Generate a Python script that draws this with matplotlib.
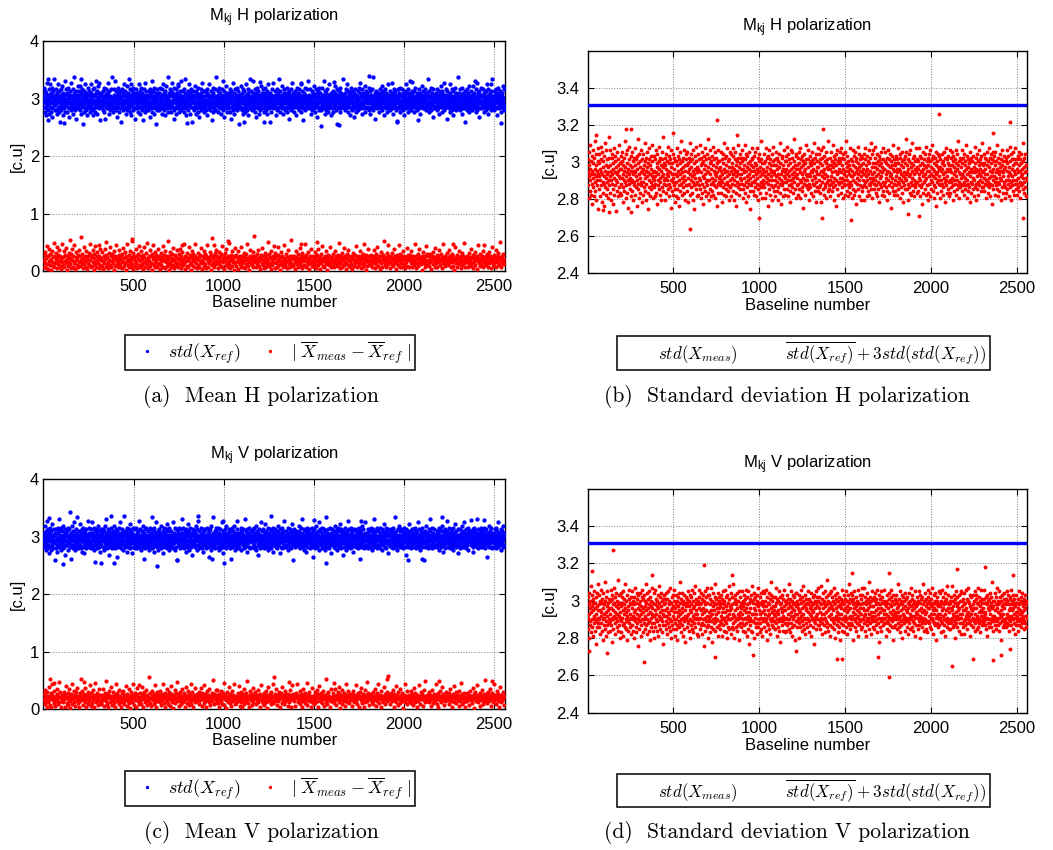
import numpy as np
import matplotlib
matplotlib.use("Agg")
import matplotlib.pyplot as plt
from matplotlib.lines import Line2D

plt.rcParams['font.family'] = ['Liberation Sans', 'DejaVu Sans']
plt.rcParams['mathtext.fontset'] = 'custom'
plt.rcParams['mathtext.rm'] = 'Liberation Sans'
plt.rcParams['mathtext.it'] = 'Liberation Sans:italic'
plt.rcParams['mathtext.bf'] = 'Liberation Sans:bold'

N_BASELINES = 2556

# ---- data ----
# each cloud is stored as integer codes, value = base + step * code
# (a) mean H : blue std(X_ref)
A_BLUE = """
47 53 50 58 44 51 56 42 49 55 46 61 52 48 39 54 50 45 57 51 43 53 49 60 47 52 55 44 50 46 58 41 53 49 56 48 51 63 45 52
54 48 45 52 57 50 43 55 49 46 53 60 51 47 56 44 50 52 38 54 48 57 45 51 59 47 53 50 42 55 49 46 52 62 48 54 44 51 57 50
49 55 51 44 53 47 58 50 46 52 41 56 49 54 48 61 45 51 53 47 50 57 43 52 48 55 46 64 50 53 45 49 56 51 40 54 47 52 59 48
52 46 56 50 48 54 45 59 51 43 55 49 52 47 57 50 37 53 48 56 44 51 54 46 60 49 52 45 55 50 47 53 42 58 51 48 54 46 50 56
48 51 44 55 52 60 47 50 53 45 49 57 42 54 51 46 58 50 48 53 44 62 49 55 47 51 56 43 52 50 59 46 53 48 55 39 51 47 54 50
55 49 53 47 50 45 56 52 48 58 44 51 54 40 50 57 47 53 49 55 46 52 61 48 50 54 43 56 51 47 53 49 45 57 52 50 64 46 51 48
50 44 52 57 49 54 46 51 62 47 53 50 45 56 48 52 41 55 50 47 58 53 44 51 49 56 46 54 52 38 50 57 48 53 45 51 55 49 60 47
46 53 49 51 56 43 50 54 47 59 51 45 52 48 55 50 63 46 53 49 44 57 51 48 54 42 52 50 56 47 53 45 58 49 51 55 46 50 40 54
53 50 57 46 52 48 55 44 51 49 60 47 54 52 43 56 50 46 53 58 48 51 45 55 49 39 53 50 57 47 52 44 54 61 48 51 56 45 50 53
51 47 54 49 45 56 50 53 41 57 48 52 55 46 50 62 44 53 49 51 56 47 52 43 58 50 54 48 46 55 51 37 53 49 57 45 52 50 47 55
49 55 45 52 58 48 51 46 54 50 43 57 53 49 47 60 52 45 55 50 48 54 42 56 51 47 59 49 53 46 52 50 64 44 55 48 51 53 46 57
54 50 48 56 44 53 49 61 47 51 55 45 52 40 58 50 46 54 49 52 57 43 51 48 55 50 46 53 59 47 52 44 56 50 48 54 51 45 62 49
47 52 56 49 53 46 50 44 57 51 48 55 63 46 52 50 42 54 49 47 56 51 45 53 60 48 50 55 43 52 47 57 49 54 38 51 53 46 50 56
52 45 51 54 48 59 50 47 53 43 56 49 52 46 55 50 58 44 51 48 54 41 53 50 47 57 52 45 55 49 61 47 51 53 46 50 56 48 44 53
50 56 47 53 51 45 55 49 42 57 50 48 54 46 52 60 49 53 45 51 56 47 50 39 54 48 52 55 44 58 50 46 53 49 57 51 45 52 48 64
45 51 53 48 56 50 44 54 47 52 58 49 51 46 55 43 50 53 47 57 52 48 62 45 51 54 49 41 56 50 47 53 51 46 59 48 52 55 44 50
53 48 50 55 46 52 57 44 51 49 54 40 56 50 47 53 61 45 52 48 55 50 43 57 49 51 46 54 52 48 58 45 50 53 47 56 51 37 54 49
48 54 52 46 59 50 47 53 45 55 51 49 57 43 52 50 46 56 48 53 44 60 51 47 54 50 52 45 57 49 42 55 51 48 53 46 63 50 47 52
56 49 45 53 51 47 55 50 62 46 52 48 54 44 57 51 49 53 41 55 47 50 58 46 52 49 56 43 51 54 48 50 45 59 52 47 53 49 55 50
51 46 57 49 53 44 50 55 48 52 58 45 51 47 56 50 43 54 49 52 60 46 53 48 51 38 55 50 47 54 52 44 57 49 51 46 53 61 48 50
49 53 47 51 56 48 54 42 52 50 45 57 53 49 46 55 51 63 47 52 50 44 56 48 53 51 46 59 50 54 47 52 43 55 49 51 57 45 50 54
55 47 52 50 44 58 49 53 46 51 55 48 40 56 50 47 54 52 45 57 49 51 53 46 61 48 50 55 44 52 47 56 50 49 54 42 53 51 47 58
48 52 55 46 50 53 49 57 45 51 47 54 50 60 44 52 48 56 51 46 53 49 39 55 50 47 58 52 45 54 49 51 46 57 53 48 50 62 47 52
52 49 46 54 51 57 47 50 53 43 56 48 52 45 55 50 47 59 49 53 46 51 54 44 57 50 48 52 41 55 47 53 50 56 49 45 52 58 51 46
47 55 50 52 45 53 58 48 51 46 54 49 62 47 52 50 43 56 51 48 53 45 55 50 47 57 52 49 44 54 51 46 60 48 53 50 55 42 51 49
53 46 51 49 56 50 44 54 47 52 59 48 50 55 45 53 49 51 37 57 50 47 54 52 46 56 49 53 44 51 58 48 50 46 55 52 47 53 63 49
50 54 48 53 47 51 55 45 57 49 52 46 50 60 48 53 44 56 51 47 54 50 42 52 55 49 46 58 51 53 45 50 56 48 52 47 54 41 50 55
46 52 57 50 48 54 44 51 53 47 56 49 52 45 58 50 47 55 61 48 51 53 46 50 54 43 57 49 52 48 55 50 46 53 59 47 51 44 56 52
54 49 51 46 55 52 47 53 50 58 45 51 49 56 43 53 50 47 54 52 46 57 48 64 51 45 53 50 49 55 47 52 40 56 50 48 54 46 51 53
49 51 55 47 52 44 57 50 48 53 46 55 51 49 59 45 52 50 56 47 53 42 51 54 48 50 57 46 52 49 55 44 53 51 47 60 50 48 54 46
52 47 50 56 45 53 49 54 61 48 51 46 55 50 43 57 52 48 53 47 50 56 45 51 49 54 38 52 50 57 47 53 46 55 49 51 48 58 44 53
48 53 46 51 57 49 52 45 55 50 47 54 42 56 51 48 53 49 60 46 52 55 47 50 44 57 51 53 48 46 55 50 62 49 52 47 54 45 51 56
55 50 48 53 47 51 56 44 52 49 58 46 53 50 47 55 51 45 54 39 52 48 57 50 46 53 49 55 43 51 54 47 50 59 48 52 46 56 50 47
51 46 54 49 52 57 47 50 55 45 53 48 51 63 46 54 50 48 56 44 52 49 53 47 58 50 45 55 51 48 52 41 57 49 53 46 50 54 47 52
47 53 51 55 48 50 45 57 52 49 46 54 50 56 43 53 48 51 59 47 52 50 55 44 56 49 53 47 51 61 45 52 48 54 50 46 57 51 49 40
53 49 56 47 51 54 46 52 48 60 50 44 55 51 47 53 49 57 45 52 50 42 56 48 53 51 46 54 49 58 47 52 55 45 50 53 48 64 51 46
50 55 47 52 49 45 57 51 53 48 54 46 50 58 43 52 49 55 47 51 53 46 56 50 38 54 48 52 57 45 51 49 53 47 55 50 44 59 52 48
46 51 53 49 56 50 47 54 45 52 59 48 51 53 46 55 50 62 47 52 49 44 57 51 48 53 45 55 50 47 54 52 41 56 49 51 46 58 53 50
54 48 50 46 53 57 49 52 44 55 51 47 53 50 56 45 52 48 60 51 46 54 49 57 43 50 53 47 55 52 48 51 45 56 50 63 47 53 49 52
49 52 56 48 51 45 54 50 47 57 53 46 50 55 42 52 49 58 47 51 54 46 53 50 48 56 44 52 51 47 55 49 53 59 46 50 52 45 57 48
"""
# (a) mean H : red |mean(X_meas) - mean(X_ref)|
A_RED = """
12 05 18 09 21 03 14 27 08 16 02 11 24 07 19 13 01 22 10 06 17 31 04 15 09 20 12 26 03 14 08 18 11 23 06 16 02 13 29 10
07 15 22 04 11 18 09 25 13 01 16 06 20 10 34 08 14 03 19 12 24 05 17 09 28 11 02 15 21 07 13 18 04 10 23 16 06 12 37 08
19 10 03 14 26 08 17 11 05 22 13 02 16 09 20 07 30 12 04 18 15 06 23 10 01 14 19 08 27 11 05 16 21 09 13 03 17 24 07 12
14 06 21 11 02 17 09 24 13 05 18 32 08 15 10 03 20 12 07 26 16 04 11 19 09 14 01 22 06 17 12 28 08 15 04 10 23 13 18 05
08 17 12 03 19 10 25 06 14 21 09 01 16 11 29 07 13 04 18 22 10 05 15 12 35 08 20 02 14 17 06 11 24 09 16 03 13 19 07 27
11 04 16 22 07 13 09 18 02 15 26 10 05 20 12 08 31 14 03 17 11 23 06 16 09 01 19 13 28 07 15 10 04 21 12 18 05 14 08 24
16 09 02 13 20 07 15 11 27 05 18 12 03 22 10 14 06 17 09 33 13 01 16 08 21 11 04 19 14 25 07 12 03 18 10 15 06 23 09 13
05 14 19 08 12 24 03 16 10 21 07 13 30 09 17 02 11 15 06 20 12 04 26 14 08 18 10 01 15 22 07 13 19 05 11 16 29 09 14 03
13 20 07 15 04 11 18 09 25 12 02 16 10 22 06 14 19 08 03 17 13 28 05 11 15 09 21 12 01 18 07 36 14 10 04 16 20 08 12 23
09 12 17 03 14 21 08 15 11 06 19 27 04 13 10 16 02 20 12 07 24 14 09 05 17 11 31 08 15 03 12 18 06 22 10 13 01 16 25 09
18 06 11 15 02 22 10 14 08 17 04 12 26 09 16 13 05 20 11 03 15 08 19 12 29 06 14 10 01 17 23 09 13 07 16 04 11 21 14 38
10 16 04 12 19 08 14 23 06 11 15 02 18 13 09 25 07 16 03 12 20 10 05 14 17 08 11 32 13 06 19 09 15 02 22 12 07 16 10 27
14 03 20 09 16 12 05 18 11 26 07 13 01 15 10 21 08 17 04 12 28 14 09 06 19 11 15 03 23 10 13 08 17 05 12 34 09 16 14 07
06 13 17 10 02 15 22 08 12 19 04 14 11 25 09 16 06 13 20 03 11 17 07 15 12 30 05 18 10 14 08 21 02 13 16 09 24 11 06 15
17 09 12 05 21 14 08 16 03 11 18 24 07 13 10 02 15 19 09 12 27 06 14 11 04 17 13 08 22 10 15 01 12 18 07 16 26 09 13 05
11 15 07 19 10 04 13 22 09 16 12 06 18 14 31 08 11 03 17 13 09 20 05 15 12 25 07 10 16 02 14 19 08 12 23 06 17 11 04 14
13 08 16 02 14 20 11 06 18 09 27 12 15 04 10 17 13 07 22 11 03 16 09 14 19 05 12 29 08 15 11 01 18 13 06 24 10 16 09 12
07 18 11 14 05 16 09 23 12 03 15 10 19 08 13 26 06 14 11 17 02 12 21 09 16 04 13 18 10 33 07 15 12 05 20 11 14 08 17 10
15 10 03 17 12 08 20 14 06 11 24 09 16 13 02 18 10 15 07 12 28 04 14 19 11 09 16 05 13 22 08 17 12 03 15 10 25 06 13 18
12 05 14 18 09 22 11 15 04 13 17 07 10 30 12 16 03 14 09 19 06 12 24 10 15 08 13 01 17 11 21 09 14 05 16 12 27 07 11 19
09 16 12 06 19 10 14 02 17 13 08 21 11 15 05 25 12 09 18 14 04 11 16 10 23 07 13 19 12 03 15 09 29 11 14 06 17 13 08 20
14 11 07 15 23 09 12 17 04 13 10 19 06 16 12 01 14 26 09 11 18 05 13 15 08 22 10 12 03 17 14 07 20 11 16 31 09 13 05 15
10 17 13 04 12 20 08 15 11 24 06 14 09 18 03 13 16 10 21 07 12 15 02 17 11 28 09 14 06 19 12 08 16 13 04 22 10 15 12 07
16 08 12 19 10 05 14 21 09 13 17 03 11 15 26 08 12 18 06 14 10 23 04 13 16 09 20 11 07 15 12 32 05 14 17 09 11 19 08 13
"""
# (c) mean V : blue std(X_ref)
C_BLUE = """
51 46 54 49 58 47 52 44 55 50 48 53 61 45 51 56 47 50 42 54 49 52 57 46 53 50 44 55 48 51 59 47 53 45 50 56 49 52 38 54
48 53 50 45 56 51 47 54 43 57 50 49 52 46 55 62 48 51 53 44 50 57 47 52 49 55 45 51 58 48 53 50 46 54 41 52 56 49 47 53
55 49 47 52 51 57 44 50 53 48 56 46 51 49 54 39 52 58 47 50 53 45 55 49 51 60 46 53 48 52 44 56 50 47 54 51 49 63 45 52
46 52 55 50 48 53 59 47 51 45 54 50 56 43 52 49 57 46 53 51 48 55 42 50 54 47 52 49 56 45 51 53 48 61 50 46 54 52 47 57
53 50 48 56 45 52 49 54 47 60 51 46 53 50 44 57 49 52 48 55 37 53 50 47 56 51 45 54 49 52 58 46 50 53 48 55 43 51 49 56
50 47 54 51 53 46 56 49 52 44 55 50 48 58 46 51 53 47 62 50 45 54 52 48 56 49 51 41 55 47 53 50 46 57 52 49 54 45 51 48
47 55 51 46 52 58 48 50 54 45 53 49 56 51 47 40 55 50 53 48 46 57 51 49 52 60 47 54 50 45 53 48 56 51 44 52 49 55 64 47
54 49 46 53 50 55 47 52 48 57 43 51 54 49 46 56 50 52 47 59 51 45 53 48 55 50 42 54 49 51 57 46 52 48 53 50 45 56 47 51
49 52 57 48 51 45 54 50 47 55 53 61 46 50 52 48 56 44 51 53 49 47 55 50 58 46 52 39 54 51 48 56 50 45 53 47 52 57 49 50
52 48 50 55 46 53 51 44 57 49 52 47 54 50 56 45 51 63 48 53 50 46 55 52 43 57 49 51 47 54 50 60 46 53 48 52 55 44 51 49
56 50 47 52 49 54 45 58 51 48 53 46 50 55 42 52 49 57 47 51 54 48 50 46 56 53 49 45 52 59 50 47 55 51 48 53 44 57 50 46
48 53 51 46 55 50 52 47 60 49 45 54 51 53 48 57 50 44 52 49 56 46 53 51 38 55 48 50 54 47 52 57 45 51 49 53 50 56 47 62
51 46 54 50 48 57 52 45 53 49 55 47 51 43 56 50 48 54 52 46 59 49 53 47 50 55 44 52 51 57 48 46 53 50 54 41 52 49 56 47
53 50 48 55 47 51 54 46 52 58 49 44 56 50 53 47 51 61 45 52 49 55 48 50 46 57 53 49 52 45 54 50 47 56 51 43 53 48 55 50
47 52 56 49 51 45 53 50 57 48 46 54 52 40 55 49 51 47 53 56 50 44 58 51 48 52 46 54 50 63 47 53 49 51 55 45 52 48 57 50
55 48 50 53 46 52 49 57 44 51 54 47 50 56 48 52 45 53 60 49 51 47 55 42 52 50 48 54 46 56 51 49 53 45 58 50 47 52 54 48
50 54 47 51 56 49 52 45 55 48 53 50 39 57 51 46 53 49 55 47 52 50 58 44 51 54 48 46 53 50 56 47 52 61 49 45 54 51 48 53
46 51 53 48 55 50 44 57 52 49 54 47 51 56 45 53 50 48 52 46 62 49 55 51 47 53 43 56 50 48 54 52 46 51 57 49 53 45 50 55
52 49 55 46 50 53 48 56 51 45 57 50 47 54 52 49 44 58 51 46 53 50 55 48 41 52 54 47 51 56 49 53 45 50 60 48 52 46 55 51
49 56 51 47 53 50 45 54 48 52 59 46 51 55 49 53 47 50 57 44 52 49 54 51 46 56 48 53 50 64 45 52 47 55 51 49 53 43 57 50
54 47 50 52 56 48 51 46 53 49 55 45 52 50 58 47 54 51 48 42 56 50 53 46 52 49 57 45 51 54 48 50 55 47 53 61 46 51 49 52
51 53 46 55 49 52 47 57 50 44 54 51 48 53 56 46 50 52 45 55 49 59 47 53 51 48 54 38 52 50 56 47 53 49 46 55 51 48 54 50
47 50 54 49 52 58 46 51 55 48 53 45 50 57 52 47 54 49 62 51 46 53 50 44 56 48 52 55 47 51 49 53 43 57 50 46 54 52 48 55
53 48 51 56 45 52 50 47 54 49 57 46 53 51 48 55 40 52 50 56 47 53 49 45 58 51 48 54 52 46 50 55 49 53 47 60 51 44 56 49
50 55 48 52 47 54 51 45 57 50 49 53 46 56 52 48 55 44 51 49 53 47 63 50 54 46 52 48 56 51 45 53 50 57 47 52 49 54 42 51
48 52 56 47 51 53 49 46 55 50 58 48 52 45 54 51 47 56 50 53 44 57 49 52 48 55 46 51 59 50 47 53 52 45 56 49 51 54 48 41
55 49 51 46 53 50 57 48 52 44 54 51 47 55 49 53 61 46 50 52 48 56 45 53 51 47 54 50 57 49 52 46 55 43 51 48 53 50 56 47
51 47 53 50 55 46 52 49 56 48 51 54 45 50 57 47 53 52 39 55 49 51 46 54 50 58 48 52 47 56 51 45 53 49 60 50 47 54 52 46
49 54 50 52 47 56 51 45 53 49 55 48 52 50 46 57 53 48 51 55 44 52 49 56 47 50 54 62 46 51 53 48 55 50 47 52 45 57 51 49
46 52 55 49 51 47 54 50 57 45 53 48 51 56 49 52 44 55 50 47 53 59 48 51 46 54 52 49 57 45 50 53 48 55 42 52 50 56 47 53
53 49 47 54 50 52 56 46 51 48 55 50 53 45 57 49 52 47 54 51 63 48 50 55 46 53 49 52 44 56 51 47 53 50 58 48 52 46 55 49
50 56 52 47 53 49 45 55 51 48 54 50 57 46 52 49 53 41 56 50 47 54 51 48 55 52 46 53 50 59 47 51 55 49 45 53 52 48 56 50
47 51 54 49 56 50 46 53 52 48 57 45 51 55 49 47 54 50 60 46 52 53 48 51 56 44 53 50 47 55 52 49 54 46 51 57 48 53 50 38
54 48 50 53 46 55 51 49 52 58 47 50 54 45 53 51 48 56 49 52 46 55 50 62 47 53 51 45 57 49 52 48 54 50 46 56 51 53 47 52
51 53 47 50 55 49 52 46 54 51 48 57 50 44 53 49 56 47 52 50 55 46 58 51 48 53 50 43 55 49 52 47 56 51 54 45 50 53 49 61
48 55 51 46 53 50 57 49 52 47 54 45 51 56 50 48 53 46 55 52 49 57 44 51 54 47 50 53 59 48 52 46 55 50 47 53 51 49 42 56
52 47 53 50 56 48 51 45 54 49 52 58 46 53 50 47 55 51 48 54 46 60 52 49 53 50 45 56 51 47 54 48 52 57 44 50 53 49 55 51
49 53 50 55 47 52 54 48 51 46 56 50 43 53 49 57 52 47 55 50 48 54 51 46 53 62 49 52 45 56 50 48 54 47 51 53 49 57 46 50
55 50 48 52 46 54 51 57 49 53 47 50 55 45 52 48 56 51 40 53 50 47 54 52 49 58 46 51 55 48 53 50 46 57 52 49 54 45 51 53
50 46 54 51 53 48 56 49 52 45 57 50 47 53 51 55 48 52 46 60 49 54 51 47 53 50 56 44 52 49 55 48 51 53 46 58 50 47 54 52
"""
# (c) mean V : red |mean(X_meas) - mean(X_ref)|
C_RED = """
10 17 06 13 21 09 15 03 19 12 08 24 14 05 11 18 02 16 27 10 13 07 20 12 04 15 09 22 11 17 06 14 30 08 13 19 03 12 16 09
14 08 19 11 03 16 12 25 07 13 18 05 10 22 15 09 01 17 12 28 06 14 11 20 08 16 04 13 19 10 23 07 15 12 02 18 09 14 33 11
12 20 05 14 10 17 08 23 13 02 16 11 19 06 15 09 26 12 04 18 13 07 21 10 14 16 03 12 29 08 15 11 18 05 13 22 09 16 10 06
07 13 16 10 22 04 14 11 18 09 15 31 06 12 17 02 13 20 08 15 11 24 05 14 10 19 12 07 16 03 13 27 09 18 11 14 06 21 12 08
15 11 03 18 12 08 20 14 06 16 10 25 13 04 17 09 12 22 07 15 01 14 19 11 08 16 13 28 05 12 18 10 14 03 17 23 09 13 11 06
18 09 13 06 15 24 11 17 02 12 19 08 14 10 21 05 16 13 09 35 11 07 18 12 04 15 20 10 13 06 17 11 26 08 14 02 19 12 09 16
11 16 08 20 13 05 17 10 14 27 07 12 18 03 15 11 22 09 13 06 16 12 19 04 14 10 25 08 17 13 01 15 11 21 07 12 18 09 30 14
13 04 17 11 09 19 14 06 22 12 15 08 10 18 02 16 13 24 07 11 20 14 05 17 09 12 28 06 15 10 19 13 03 16 11 23 08 14 12 17
09 14 12 19 06 16 10 23 13 04 18 11 15 07 26 12 09 17 14 02 20 10 13 16 08 22 11 05 15 12 18 09 32 14 06 17 11 13 21 07
16 10 21 07 13 17 03 15 11 20 09 14 06 18 12 29 05 13 16 10 01 19 12 08 15 24 11 14 07 17 13 04 20 09 16 12 10 27 06 14
12 07 15 13 18 09 25 11 04 16 14 08 19 12 02 17 10 22 06 15 13 09 18 11 31 07 14 12 03 20 16 10 13 05 17 11 23 08 15 12
14 19 06 12 10 16 08 21 15 11 03 17 13 26 09 14 07 12 18 05 15 10 20 13 08 16 01 11 24 14 09 17 12 06 19 10 15 28 07 13
08 13 17 10 22 14 05 16 12 09 19 11 15 02 18 13 07 24 10 14 16 06 12 20 09 17 15 11 04 17 13 08 21 12 10 16 03 14 26 11
17 11 09 14 04 18 12 15 27 08 13 16 10 06 20 12 14 09 17 03 13 22 11 15 07 18 10 12 29 05 16 14 09 19 11 13 02 15 08 23
10 15 12 06 19 11 16 08 14 21 13 03 17 10 25 12 09 15 18 07 13 11 20 04 16 12 14 33 08 11 17 06 13 19 10 15 02 12 22 09
13 09 18 12 15 07 22 10 14 05 16 12 19 11 08 24 13 01 17 14 10 06 21 12 15 09 18 04 13 27 11 16 08 14 20 12 07 17 10 15
15 12 04 17 10 20 13 08 16 11 26 09 14 06 18 12 15 03 19 13 10 23 07 14 11 17 02 15 12 21 08 16 13 30 09 12 18 05 14 11
11 17 14 08 13 19 06 15 10 22 12 04 16 13 09 18 11 28 07 14 12 16 02 20 10 15 13 08 24 11 17 06 14 12 19 09 13 36 10 16
14 06 12 18 11 15 09 21 13 03 17 10 14 25 08 16 12 05 19 11 13 15 07 22 10 14 18 09 12 01 16 13 27 08 15 11 20 06 14 12
09 16 13 11 20 07 14 17 10 05 15 12 23 08 18 13 11 02 16 14 09 26 12 15 06 19 11 13 17 04 14 10 21 12 08 31 15 13 09 16
12 14 08 19 10 16 13 04 15 21 11 07 17 12 14 09 28 13 06 16 11 18 03 14 12 20 10 15 08 13 24 11 17 05 14 12 09 19 13 10
16 10 15 06 13 18 11 22 09 14 12 02 17 13 08 25 15 11 19 07 12 14 10 16 04 20 13 09 15 12 29 06 17 11 14 08 18 12 03 13
13 18 09 14 11 05 16 12 20 10 15 13 07 23 11 17 14 01 12 19 09 15 13 26 08 16 11 14 04 18 12 10 21 15 06 13 17 09 32 12
10 14 17 12 07 19 13 09 16 11 22 04 15 12 18 08 14 27 10 13 16 06 12 20 11 15 09 17 03 14 12 24 08 16 13 10 19 11 05 15
"""
# (b) std H : red std(X_meas)
B_RED = """
44 58 51 37 62 49 55 41 47 66 53 39 50 57 45 60 34 52 48 63 43 56 50 38 59 46 53 68 41 49 55 36 61 47 52 44 57 31 50 64
56 42 49 61 38 53 47 65 51 44 58 35 50 62 46 54 40 57 49 33 60 45 52 67 43 55 48 39 63 50 46 58 42 54 37 51 59 47 70 44
49 63 40 55 47 52 36 59 45 61 50 42 56 34 53 48 64 39 51 57 44 60 47 30 54 50 41 62 46 55 38 58 52 43 66 49 56 40 48 53
60 45 53 39 57 48 62 43 50 35 55 47 59 41 52 68 46 54 37 61 49 44 56 51 40 63 47 53 32 58 45 50 65 42 55 48 38 60 52 46
41 54 47 62 50 36 57 44 52 59 46 64 39 51 55 43 58 49 33 60 47 53 42 56 69 45 50 37 61 48 54 40 57 51 44 63 46 35 52 58
53 39 61 46 55 43 50 67 41 57 48 52 36 59 45 62 49 54 40 56 31 51 47 64 43 58 50 38 55 46 60 42 53 49 66 44 57 37 51 48
47 60 43 52 38 58 49 45 63 51 40 56 54 34 61 47 50 44 57 65 42 53 48 39 59 46 55 52 36 62 49 43 58 50 41 54 70 45 56 47
55 48 36 59 44 53 61 40 50 47 57 42 65 49 52 38 56 45 60 51 43 58 32 54 47 63 41 50 56 46 39 61 48 53 44 59 50 35 57 42
38 57 50 46 64 42 55 49 37 60 52 44 58 47 33 62 50 41 56 53 45 68 48 39 57 51 43 59 46 54 40 63 49 55 36 52 47 61 44 58
62 44 55 41 51 56 35 48 59 45 53 67 39 50 57 43 61 47 54 40 58 49 36 63 46 52 44 56 50 31 60 48 53 42 57 45 65 51 38 54
46 53 39 61 48 44 58 52 42 66 47 55 37 59 51 45 62 40 56 49 34 57 53 43 60 48 50 64 41 55 46 38 58 52 44 61 47 54 69 40
51 36 59 47 56 42 63 50 45 38 57 53 48 60 41 55 46 65 39 52 58 44 50 37 62 47 54 43 59 49 33 56 51 45 63 40 57 48 53 46
57 49 44 54 40 62 47 52 58 35 50 46 61 43 56 39 53 48 67 45 51 59 42 55 38 60 49 46 64 52 41 57 44 50 36 58 54 47 62 43
43 61 52 38 56 48 54 45 60 50 41 64 47 53 36 58 51 44 62 40 55 49 33 57 46 52 59 43 50 66 45 54 39 61 48 56 42 53 47 59
50 45 57 63 42 53 37 59 48 55 44 51 66 40 58 46 52 61 35 54 49 43 60 47 56 38 53 50 45 62 41 57 48 31 55 52 44 59 46 64
58 41 49 54 46 60 52 39 56 43 62 47 50 55 38 64 45 53 48 42 59 51 36 57 44 61 49 54 40 52 68 46 58 43 50 37 56 47 53 45
45 56 61 43 51 37 57 49 64 46 52 40 59 48 54 33 60 45 50 56 42 63 47 53 39 58 51 44 55 49 61 36 52 47 57 43 65 50 41 55
52 47 38 58 44 55 49 62 41 53 59 46 50 36 57 43 61 48 54 45 67 40 56 50 47 34 59 52 44 60 46 55 38 53 49 63 42 57 48 51
39 60 53 46 57 42 50 65 47 55 38 61 44 52 58 49 41 56 35 63 47 53 45 59 50 43 62 48 54 40 57 51 46 69 42 55 49 37 60 53
61 48 44 55 50 39 59 45 53 62 42 56 47 51 64 37 54 46 58 43 50 60 41 55 48 32 57 52 45 61 47 53 39 56 44 66 50 58 43 49
47 54 58 42 63 50 45 36 56 49 60 43 52 57 40 55 47 62 51 38 58 45 53 49 67 44 56 41 59 48 52 35 61 46 54 43 57 50 64 41
54 43 50 61 47 56 40 58 44 52 35 63 49 55 46 59 42 51 65 48 53 39 60 45 57 50 43 56 37 62 49 54 46 58 41 53 47 68 44 55
42 59 47 53 38 55 62 49 45 57 51 41 66 46 54 43 60 48 56 36 52 58 44 61 47 33 55 50 63 42 57 46 51 39 59 53 45 56 48 62
57 46 64 40 51 48 55 43 59 37 53 61 47 50 45 58 39 62 52 44 56 49 68 41 54 47 60 45 52 38 57 50 43 55 64 46 53 40 58 49
44 52 37 57 49 63 42 55 47 60 50 39 54 46 62 41 57 51 34 59 45 53 48 56 42 65 50 38 61 47 54 44 58 52 36 60 49 55 43 51
59 41 53 47 56 44 61 50 36 58 46 64 43 52 49 55 38 60 47 53 41 57 50 45 63 39 56 48 52 44 59 46 67 42 54 50 37 61 47 56
48 63 45 51 42 59 47 54 65 40 56 49 44 61 38 53 57 46 50 42 60 55 35 58 48 52 45 62 43 56 49 39 54 51 46 58 41 64 53 44
53 38 57 46 62 50 43 56 48 41 59 52 36 55 47 63 44 51 58 40 54 49 61 46 32 57 50 43 60 48 55 41 53 66 45 52 58 39 56 47
41 55 49 60 44 53 39 58 51 46 64 42 56 48 53 45 59 37 52 61 47 55 43 50 57 40 62 46 54 49 35 58 44 51 60 48 42 56 69 50
62 47 42 55 51 36 58 45 53 61 49 43 57 40 63 50 46 54 39 56 48 67 44 52 59 41 55 47 50 38 60 53 45 57 43 51 64 46 54 40
46 58 53 41 57 48 64 44 50 55 38 60 47 52 43 59 51 34 56 45 62 49 53 40 58 46 55 42 61 50 47 65 39 54 48 57 44 52 36 59
55 40 49 61 45 52 57 38 63 47 54 42 50 58 46 66 41 53 49 60 44 56 37 52 48 59 43 55 50 33 62 46 57 51 40 54 47 61 45 53
49 60 44 54 37 58 47 52 41 56 61 45 53 39 57 50 43 62 48 55 46 35 59 51 44 64 47 53 40 58 49 56 42 60 52 46 38 55 63 47
40 53 59 46 51 43 62 55 48 36 57 44 60 50 47 54 41 58 52 45 63 39 56 49 53 42 61 47 55 68 44 51 46 57 37 59 50 43 54 48
58 45 50 63 41 56 49 44 59 52 39 61 46 55 42 57 48 66 44 53 50 37 60 47 54 41 58 45 51 56 43 62 49 35 57 46 53 40 59 51
45 57 42 52 48 60 38 54 47 65 43 56 51 45 59 36 53 49 61 42 57 46 52 39 55 50 63 44 58 47 53 41 56 49 60 43 51 67 46 55
52 43 61 48 56 41 53 59 45 50 37 58 47 62 44 55 50 40 57 46 64 43 54 48 59 38 52 45 61 49 56 34 58 51 44 62 47 53 42 57
60 49 46 55 39 62 51 44 57 48 53 42 66 46 52 38 59 50 45 56 41 61 48 54 36 58 47 52 63 43 55 49 40 57 51 46 60 44 53 37
43 54 57 40 59 47 52 63 42 56 49 45 60 38 54 51 47 65 43 57 50 36 61 46 53 44 58 49 41 55 62 47 52 39 58 45 56 50 64 42
56 47 39 58 45 53 60 43 51 48 62 41 55 46 58 52 37 56 49 44 61 50 45 53 67 42 57 48 40 59 46 54 51 43 61 48 55 38 52 47
"""
# (d) std V : red std(X_meas)
D_RED = """
48 59 42 55 50 37 61 46 53 44 57 51 65 40 54 47 60 43 52 56 38 58 49 45 62 47 53 41 56 50 34 59 46 54 43 61 48 52 66 45
55 43 60 47 52 39 57 49 63 45 51 56 41 58 47 53 36 61 50 44 55 48 67 42 57 51 46 59 38 54 49 62 44 56 40 52 58 47 53 45
41 57 50 46 63 53 44 58 48 35 60 52 47 55 42 64 49 56 45 51 59 39 54 48 61 43 57 50 46 53 68 41 55 49 44 60 37 56 51 47
61 46 54 40 56 48 59 44 52 62 38 55 50 45 58 43 53 66 47 51 42 57 49 36 60 46 54 52 41 58 47 63 45 50 56 43 59 48 39 55
47 53 44 62 49 57 41 55 51 37 59 46 64 48 52 43 56 40 61 50 45 58 53 47 33 60 49 55 42 57 46 52 61 44 54 38 50 59 47 63
53 40 58 51 45 60 47 54 42 57 49 66 44 52 56 39 61 47 53 45 58 50 41 55 62 46 51 36 59 48 54 43 57 50 64 45 53 41 56 49
45 61 49 37 55 52 63 43 58 47 50 41 57 54 46 60 38 53 49 65 44 56 51 47 59 42 54 48 61 40 57 46 52 34 58 50 44 55 49 60
58 44 52 56 42 49 61 46 53 39 58 51 45 62 48 55 43 50 57 41 64 47 52 46 56 37 59 53 44 60 49 54 42 57 47 63 51 45 53 38
42 55 60 47 51 44 57 36 59 49 54 46 61 43 52 67 45 56 50 40 58 47 53 44 61 51 38 55 48 57 42 60 46 52 49 56 35 59 47 54
56 49 43 58 46 62 50 45 54 41 57 52 37 60 47 55 44 59 51 46 63 42 53 49 57 40 61 48 54 45 50 65 43 56 47 52 58 39 55 48
50 38 57 45 63 47 53 59 42 55 48 61 44 52 56 39 58 50 45 60 47 53 33 57 51 44 62 48 55 41 59 46 52 64 43 56 49 37 60 46
44 60 51 47 55 40 58 49 64 43 52 46 57 50 35 61 47 54 42 56 52 45 59 48 66 41 55 50 46 58 43 53 47 61 38 56 51 44 57 53
59 46 54 42 60 49 45 56 38 58 51 47 62 44 53 57 41 55 48 63 46 51 40 59 45 54 49 37 60 52 47 56 43 58 50 65 42 54 47 52
47 53 39 61 48 55 43 59 50 45 66 42 56 49 37 58 52 46 60 43 55 48 57 41 53 61 47 50 44 57 36 62 49 54 45 59 51 43 56 48
53 62 45 50 57 41 54 47 60 44 56 52 40 58 48 53 63 45 51 38 59 47 55 42 62 49 46 56 51 34 58 44 53 48 60 41 57 50 46 65
40 56 50 46 58 53 37 61 45 52 48 59 43 55 50 45 60 39 57 47 54 64 43 52 56 47 40 59 50 45 61 48 55 42 57 51 38 54 62 46
55 48 61 43 52 46 57 50 41 63 47 54 45 59 36 56 49 52 44 61 42 55 50 47 58 39 60 46 53 67 44 51 57 48 54 43 59 46 52 50
46 59 42 54 49 64 45 56 51 47 38 58 50 43 57 52 46 62 41 55 48 59 35 53 47 56 51 44 60 46 52 41 58 49 63 47 54 45 57 40
52 41 57 48 55 44 60 47 53 58 45 50 66 42 56 47 54 40 58 51 45 62 49 43 57 53 38 60 47 55 49 44 59 52 36 56 50 46 61 54
61 50 46 57 43 53 48 55 37 60 52 45 58 47 51 43 63 49 56 46 53 41 59 50 44 57 65 48 54 42 55 47 60 39 52 58 45 53 48 56
43 55 51 62 47 40 58 46 53 50 57 44 61 49 54 38 56 47 52 59 43 51 55 46 60 48 34 57 53 45 62 49 56 42 54 47 59 50 44 64
57 47 53 44 59 51 46 56 42 65 48 55 50 39 58 45 53 61 47 56 50 44 57 40 62 48 54 46 59 51 43 55 68 45 52 57 41 60 49 53
49 61 44 56 38 54 62 50 47 53 43 59 46 57 52 48 64 42 55 45 60 37 56 49 53 47 58 44 51 61 46 54 40 57 50 43 59 48 55 36
54 45 58 50 53 47 41 57 63 48 55 44 52 60 40 56 49 46 58 53 43 62 47 51 39 57 54 48 45 60 52 66 44 56 49 53 42 58 47 61
45 57 49 60 44 55 51 36 58 47 53 62 46 50 56 43 59 48 54 41 57 52 45 63 49 38 56 47 55 51 44 60 53 46 58 42 55 50 64 47
60 43 53 47 56 49 64 45 52 41 59 50 46 57 38 55 52 48 61 44 58 46 53 50 67 42 56 48 54 45 59 39 57 51 46 62 49 54 43 58
47 54 59 42 51 57 46 61 49 55 44 52 58 40 63 47 53 45 56 50 35 60 48 55 43 58 51 46 62 53 41 56 48 59 44 52 57 47 50 45
52 63 45 55 48 38 57 50 54 46 60 42 56 49 53 45 61 47 41 58 51 55 44 59 48 54 63 43 57 50 46 52 36 60 47 55 49 43 58 51
44 50 57 47 60 53 42 56 49 66 45 54 51 43 58 47 55 40 62 49 52 46 57 44 60 37 55 50 47 59 53 45 57 49 41 61 46 54 52 48
58 47 43 59 51 46 56 39 53 61 48 55 45 57 50 42 64 47 54 49 58 43 52 60 46 55 41 57 49 53 45 62 48 56 38 54 51 44 59 50
50 55 48 42 57 52 46 62 44 56 49 37 60 47 53 58 45 51 43 59 48 55 66 46 52 41 57 50 45 61 47 54 42 58 51 46 56 40 53 63
46 59 53 57 45 49 61 43 55 50 47 58 42 54 64 48 52 46 56 39 60 50 45 53 57 44 61 48 36 55 52 49 59 45 57 43 54 50 62 47
55 44 50 61 48 54 40 57 46 52 63 45 56 49 41 59 53 47 55 44 61 38 57 50 46 58 52 43 56 48 65 45 53 47 60 42 55 51 46 57
42 56 47 53 59 45 52 48 65 43 57 50 54 46 60 44 49 56 37 58 51 47 62 45 54 49 43 59 52 47 56 41 60 48 53 57 45 50 39 62
61 48 54 45 57 50 43 58 52 46 55 39 61 47 52 56 44 63 49 53 45 58 50 42 57 47 64 51 45 56 49 54 38 60 46 53 50 44 59 52
47 52 60 43 55 48 57 46 53 41 62 50 45 58 47 53 60 42 56 49 46 64 43 55 51 47 59 45 54 40 57 49 52 63 46 56 44 51 58 48
53 45 49 58 46 63 51 44 56 50 47 59 42 55 38 60 48 53 45 57 52 43 58 47 54 61 45 50 56 43 59 48 67 46 53 41 57 49 54 46
49 57 44 52 61 47 55 42 59 48 53 64 46 51 57 44 55 48 62 41 56 50 45 59 52 36 57 49 54 46 60 43 55 50 47 58 44 53 61 45
56 46 58 48 43 55 50 62 45 57 49 44 60 52 47 55 41 58 53 46 59 49 63 44 55 48 52 57 42 60 47 53 45 58 50 39 56 48 54 51
44 60 51 46 56 49 53 41 58 47 55 62 44 50 56 46 52 59 48 43 57 51 45 61 49 54 47 56 42 58 52 46 60 45 53 49 57 43 55 48
"""

# (base, step) used to turn codes into [c.u]
A_BLUE_SCALE = (1.45, 0.030)
A_RED_SCALE = (0.00, 0.016)
C_BLUE_SCALE = (1.45, 0.030)
C_RED_SCALE = (0.00, 0.016)
B_RED_SCALE = (2.435, 0.010)
D_RED_SCALE = (2.430, 0.010)

# isolated points (baseline, value)
A_BLUE_OUT_X = [28, 209, 117, 796, 1804, 1541, 1641, 2537, 1111, 1222, 1963, 309, 485, 744, 1204, 1426, 1611, 2043, 2407, 2481]
A_BLUE_OUT_Y = [3.34, 3.34, 2.57, 2.58, 3.40, 2.52, 2.54, 2.58, 2.59, 2.59, 2.61, 3.28, 3.26, 3.26, 3.29, 3.28, 3.29, 3.29, 3.28, 3.26]
A_RED_OUT_X = [494, 1024, 1515, 1430, 769, 2269, 2444, 1913, 306, 944]
A_RED_OUT_Y = [0.53, 0.53, 0.50, 0.48, 0.45, 0.48, 0.45, 0.45, 0.45, 0.45]
B_RED_OUT_X = [752, 2045, 2461, 595, 1535, 1366, 998, 1864, 1928, 2535, 91, 126, 252, 2360, 500, 1372, 252, 223, 48, 872]
B_RED_OUT_Y = [3.23, 3.26, 3.22, 2.64, 2.69, 2.70, 2.70, 2.72, 2.71, 2.70, 2.74, 2.73, 2.73, 3.16, 3.16, 3.18, 3.18, 3.18, 3.15, 3.15]
C_BLUE_OUT_X = [148, 31, 376, 856, 996, 1500, 2209, 2446, 2370, 1759, 107, 631, 1000, 1570, 320, 389, 741, 2024, 2100, 935]
C_BLUE_OUT_Y = [3.44, 3.33, 3.37, 3.36, 3.28, 3.30, 3.34, 3.30, 3.30, 3.28, 2.52, 2.50, 2.54, 2.55, 2.54, 2.55, 2.59, 2.59, 2.62, 2.61]
C_RED_OUT_X = [1281, 37, 1904, 2489, 228, 1363, 2196, 1611, 533, 61]
C_RED_OUT_Y = [0.57, 0.53, 0.53, 0.49, 0.47, 0.47, 0.49, 0.46, 0.42, 0.46]
D_RED_OUT_X = [151, 1752, 2122, 326, 676, 2151, 2312, 10, 112, 740, 963, 1211, 1450, 1479, 1692, 2359, 2245, 2409, 2457, 1537, 29, 376, 841, 1755, 2477]
D_RED_OUT_Y = [3.27, 2.59, 2.65, 2.67, 3.19, 3.17, 3.18, 2.73, 2.72, 2.70, 2.71, 2.73, 2.69, 2.69, 2.70, 2.68, 2.69, 2.71, 2.74, 3.15, 3.16, 3.14, 3.14, 3.15, 3.14]

THRESH_H = 3.31
THRESH_V = 3.31

X_TICKS = [500, 1000, 1500, 2000, 2500]
MEAN_YTICKS = [0, 1, 2, 3, 4]
STD_YTICKS = [2.4, 2.6, 2.8, 3.0, 3.2, 3.4]
STD_YTICKLABELS = ["2.4", "2.6", "2.8", "3", "3.2", "3.4"]

TITLES = [r"M$_{\mathrm{kj}}$ H polarization", r"M$_{\mathrm{kj}}$ H polarization",
          r"M$_{\mathrm{kj}}$ V polarization", r"M$_{\mathrm{kj}}$ V polarization"]
CAPTIONS = ["(a)  Mean H polarization", "(b)  Standard deviation H polarization",
            "(c)  Mean V polarization", "(d)  Standard deviation V polarization"]
MEAN_LABELS = [r"$std(X_{ref})$", r"$|\;\overline{X}_{meas}-\overline{X}_{ref}\;|$"]
STD_LABELS = [r"$std(X_{meas})$", r"$\overline{std(X_{ref})}+3std(std(X_{ref}))$"]


def decode(codes, scale):
    base, step = scale
    return base + step * np.array(codes.split(), dtype=float)


def cloud(ax, codes, scale, out_x, out_y, color, ms):
    y = decode(codes, scale)
    x = np.linspace(1, N_BASELINES, len(y))
    ax.plot(x, y, 'o', ms=ms, mfc=color, mec='none', zorder=3)
    ax.plot(out_x, out_y, 'o', ms=ms, mfc=color, mec='none', zorder=3)


def style(ax, title, is_std):
    ax.set_xticks(X_TICKS)
    ax.set_xticklabels([str(t) for t in X_TICKS])
    if is_std:
        ax.set_xlim(1, N_BASELINES)
        ax.set_ylim(2.4, 3.6)
        ax.set_yticks(STD_YTICKS)
        ax.set_yticklabels(STD_YTICKLABELS)
        ypad = 6.0
        ax.yaxis.set_label_coords(-0.070, 0.5)
        ax.xaxis.set_label_coords(0.5, -0.112)
    else:
        ax.set_xlim(0, 2562)
        ax.set_ylim(0, 4)
        ax.set_yticks(MEAN_YTICKS)
        ax.set_yticklabels([str(t) for t in MEAN_YTICKS])
        ypad = 3.0
        ax.yaxis.set_label_coords(-0.040, 0.5)
        ax.xaxis.set_label_coords(0.5, -0.103)
    ax.tick_params(direction='in', top=True, right=True, length=4, width=0.8, labelsize=12)
    ax.tick_params(axis='x', pad=5.6)
    ax.tick_params(axis='y', pad=ypad)
    ax.grid(True, ls=':', color='0.5', lw=0.7)
    for s in ax.spines.values():
        s.set_linewidth(1.0)
    ax.set_xlabel("Baseline number", fontsize=12, va='top')
    ax.set_ylabel("[c.u]", fontsize=12)
    ax.annotate(title, xy=(0.5, 1), xycoords='axes fraction', xytext=(0, 14.4),
                textcoords='offset points', ha='center', va='baseline', fontsize=12)


def legend(ax, fig, labels, colors, cx, cy, fs):
    if colors is None:
        handles = [Line2D([], [], ls='none', marker='none') for _ in labels]
    else:
        handles = [Line2D([], [], ls='none', marker='o', ms=2.4, mfc=c, mec='none') for c in colors]
    leg = ax.legend(handles, labels, ncol=2, loc='center', bbox_to_anchor=(cx, cy),
                    bbox_transform=fig.transFigure, frameon=True, fancybox=False,
                    edgecolor='black', framealpha=1, fontsize=fs, handlelength=1.95,
                    handletextpad=0.2, columnspacing=0.65, borderpad=0.22)
    leg.get_frame().set_linewidth(1.1)
    for t in leg.get_texts():
        t.set_math_fontfamily('cm')
    return leg


fig = plt.figure(figsize=(10.53, 8.5), dpi=100)

ax_a = fig.add_axes([0.0412, 0.6810, 0.4387, 0.2706])
ax_b = fig.add_axes([0.5581, 0.6785, 0.4169, 0.2612])
ax_c = fig.add_axes([0.0412, 0.1655, 0.4387, 0.2706])
ax_d = fig.add_axes([0.5581, 0.1615, 0.4169, 0.2635])

cloud(ax_a, A_BLUE, A_BLUE_SCALE, A_BLUE_OUT_X, A_BLUE_OUT_Y, 'blue', 3.1)
cloud(ax_a, A_RED, A_RED_SCALE, A_RED_OUT_X, A_RED_OUT_Y, 'red', 3.0)
cloud(ax_b, B_RED, B_RED_SCALE, B_RED_OUT_X, B_RED_OUT_Y, 'red', 2.8)
ax_b.axhline(THRESH_H, color='blue', lw=2.4, zorder=4)
cloud(ax_c, C_BLUE, C_BLUE_SCALE, C_BLUE_OUT_X, C_BLUE_OUT_Y, 'blue', 3.1)
cloud(ax_c, C_RED, C_RED_SCALE, C_RED_OUT_X, C_RED_OUT_Y, 'red', 3.0)
cloud(ax_d, D_RED, D_RED_SCALE, D_RED_OUT_X, D_RED_OUT_Y, 'red', 2.8)
ax_d.axhline(THRESH_V, color='blue', lw=2.4, zorder=4)

for ax, title, is_std in zip([ax_a, ax_b, ax_c, ax_d], TITLES, [False, True, False, True]):
    style(ax, title, is_std)

legend(ax_a, fig, MEAN_LABELS, ['blue', 'red'], 0.2564, 0.5853, 13)
legend(ax_b, fig, STD_LABELS, None, 0.7633, 0.5850, 12.3)
legend(ax_c, fig, MEAN_LABELS, ['blue', 'red'], 0.2564, 0.0724, 13)
legend(ax_d, fig, STD_LABELS, None, 0.7633, 0.0700, 12.3)

cap_x = [0.2481, 0.7474, 0.2481, 0.7474]
cap_y = [1 - 402 / 850, 1 - 402 / 850, 1 - 838 / 850, 1 - 838 / 850]
for x, y, txt in zip(cap_x, cap_y, CAPTIONS):
    fig.text(x, y, txt, family='cmr10', fontsize=15.5, ha='center', va='baseline')

fig.savefig("out.png", dpi=100)
